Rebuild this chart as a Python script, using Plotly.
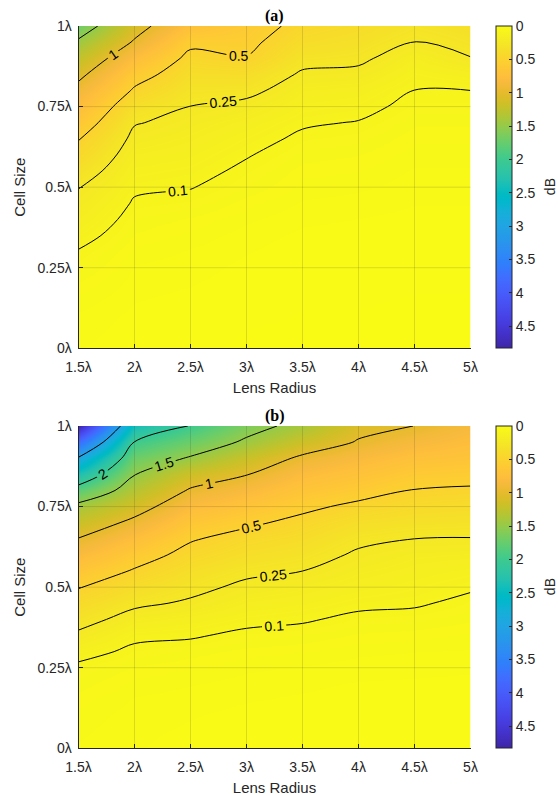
import plotly.graph_objects as go

# ---------------- data ----------------
lens_radius = [1.5, 2.0, 2.5, 3.0, 3.5, 4.0, 4.5, 5.0]
cell_size = [0.0, 0.05, 0.1, 0.15, 0.2, 0.25, 0.3, 0.35, 0.4, 0.45, 0.5,
             0.55, 0.6, 0.65, 0.7, 0.75, 0.8, 0.85, 0.9, 0.95, 1.0]

x_tick_vals = [1.5, 2.0, 2.5, 3.0, 3.5, 4.0, 4.5, 5.0]
x_tick_text = ["1.5λ", "2λ", "2.5λ", "3λ", "3.5λ", "4λ", "4.5λ", "5λ"]
y_tick_vals = [0.0, 0.25, 0.5, 0.75, 1.0]
y_tick_text = ["0λ", "0.25λ", "0.5λ", "0.75λ", "1λ"]
cbar_tick_vals = [0, 0.5, 1, 1.5, 2, 2.5, 3, 3.5, 4, 4.5]
cbar_max = 4.83

# panel (a): loss (dB) along cell size, one list per lens radius
a_r15 = [0.02, 0.025, 0.03, 0.04, 0.055, 0.075, 0.095, 0.13, 0.17, 0.21, 0.255,
         0.33, 0.42, 0.51, 0.63, 0.76, 0.91, 1.07, 1.25, 1.45, 1.7]
a_r20 = [0.01, 0.012, 0.015, 0.02, 0.025, 0.03, 0.04, 0.055, 0.07, 0.09, 0.115,
         0.14, 0.17, 0.21, 0.26, 0.34, 0.47, 0.6, 0.77, 0.97, 1.12]
a_r25 = [0.008, 0.01, 0.012, 0.015, 0.02, 0.025, 0.03, 0.04, 0.055, 0.08, 0.103,
         0.125, 0.15, 0.175, 0.205, 0.248, 0.3, 0.36, 0.44, 0.55, 0.72]
a_r30 = [0.005, 0.006, 0.008, 0.01, 0.012, 0.015, 0.02, 0.025, 0.035, 0.05, 0.07,
         0.085, 0.105, 0.13, 0.16, 0.21, 0.29, 0.37, 0.49, 0.55, 0.6]
a_r35 = [0.004, 0.005, 0.006, 0.007, 0.008, 0.01, 0.012, 0.016, 0.022, 0.03, 0.04,
         0.05, 0.065, 0.085, 0.11, 0.14, 0.175, 0.23, 0.3, 0.37, 0.44]
a_r40 = [0.004, 0.005, 0.006, 0.007, 0.008, 0.009, 0.011, 0.014, 0.019, 0.026, 0.035,
         0.045, 0.058, 0.075, 0.096, 0.125, 0.16, 0.215, 0.28, 0.33, 0.38]
a_r45 = [0.003, 0.004, 0.005, 0.006, 0.007, 0.008, 0.01, 0.012, 0.015, 0.02, 0.025,
         0.03, 0.038, 0.047, 0.06, 0.077, 0.099, 0.13, 0.17, 0.245, 0.3]
a_r50 = [0.003, 0.004, 0.005, 0.006, 0.007, 0.008, 0.01, 0.012, 0.015, 0.02, 0.025,
         0.03, 0.038, 0.047, 0.06, 0.077, 0.1, 0.16, 0.245, 0.3, 0.34]

# panel (b)
b_r15 = [0.03, 0.035, 0.04, 0.05, 0.065, 0.08, 0.135, 0.22, 0.31, 0.4, 0.51,
         0.65, 0.81, 0.99, 1.2, 1.4, 1.82, 2.35, 2.95, 3.8, 4.8]
b_r20 = [0.02, 0.022, 0.025, 0.03, 0.04, 0.055, 0.08, 0.12, 0.19, 0.28, 0.37,
         0.48, 0.6, 0.75, 0.93, 1.13, 1.33, 1.51, 1.72, 1.99, 2.4]
b_r25 = [0.015, 0.017, 0.02, 0.025, 0.033, 0.045, 0.065, 0.11, 0.16, 0.23, 0.29,
         0.35, 0.43, 0.52, 0.64, 0.79, 0.97, 1.17, 1.47, 1.72, 1.98]
b_r30 = [0.012, 0.013, 0.015, 0.02, 0.026, 0.035, 0.05, 0.08, 0.125, 0.17, 0.22,
         0.28, 0.35, 0.42, 0.54, 0.67, 0.83, 1.01, 1.2, 1.45, 1.62]
b_r35 = [0.01, 0.011, 0.013, 0.017, 0.022, 0.03, 0.045, 0.07, 0.11, 0.15, 0.19,
         0.25, 0.31, 0.37, 0.44, 0.55, 0.67, 0.79, 0.95, 1.18, 1.4]
b_r40 = [0.008, 0.009, 0.011, 0.014, 0.018, 0.025, 0.035, 0.055, 0.08, 0.12, 0.155,
         0.19, 0.23, 0.28, 0.35, 0.45, 0.59, 0.7, 0.82, 0.98, 1.08]
b_r45 = [0.007, 0.008, 0.01, 0.013, 0.017, 0.023, 0.032, 0.05, 0.075, 0.11, 0.135,
         0.16, 0.19, 0.25, 0.32, 0.4, 0.49, 0.6, 0.72, 0.85, 0.998]
b_r50 = [0.006, 0.007, 0.009, 0.012, 0.016, 0.021, 0.03, 0.043, 0.06, 0.08, 0.11,
         0.14, 0.18, 0.245, 0.31, 0.38, 0.47, 0.58, 0.68, 0.77, 0.85]

levels_a = [0.1, 0.25, 0.5, 1, 1.5]
levels_b = [0.1, 0.25, 0.5, 1, 1.5, 2, 3]

# ---------------- styling ----------------
parula = [
    (0.2422, 0.1504, 0.6603), (0.2504, 0.1650, 0.7076), (0.2578, 0.1818, 0.7511),
    (0.2647, 0.1978, 0.7952), (0.2706, 0.2147, 0.8364), (0.2751, 0.2342, 0.8710),
    (0.2783, 0.2559, 0.8991), (0.2803, 0.2782, 0.9221), (0.2813, 0.3006, 0.9414),
    (0.2810, 0.3228, 0.9579), (0.2795, 0.3447, 0.9717), (0.2760, 0.3667, 0.9829),
    (0.2699, 0.3892, 0.9906), (0.2602, 0.4123, 0.9952), (0.2440, 0.4358, 0.9988),
    (0.2206, 0.4603, 0.9973), (0.1963, 0.4847, 0.9892), (0.1834, 0.5074, 0.9798),
    (0.1786, 0.5289, 0.9682), (0.1764, 0.5499, 0.9520), (0.1687, 0.5703, 0.9359),
    (0.1540, 0.5902, 0.9218), (0.1460, 0.6091, 0.9079), (0.1380, 0.6276, 0.8973),
    (0.1248, 0.6459, 0.8883), (0.1113, 0.6635, 0.8763), (0.0952, 0.6798, 0.8598),
    (0.0689, 0.6948, 0.8394), (0.0297, 0.7082, 0.8163), (0.0036, 0.7203, 0.7917),
    (0.0067, 0.7312, 0.7660), (0.0433, 0.7411, 0.7394), (0.0964, 0.7500, 0.7120),
    (0.1408, 0.7584, 0.6842), (0.1717, 0.7670, 0.6554), (0.1938, 0.7758, 0.6251),
    (0.2161, 0.7843, 0.5923), (0.2470, 0.7918, 0.5567), (0.2906, 0.7973, 0.5188),
    (0.3406, 0.8008, 0.4789), (0.3909, 0.8029, 0.4354), (0.4456, 0.8024, 0.3909),
    (0.5044, 0.7993, 0.3480), (0.5616, 0.7942, 0.3045), (0.6174, 0.7876, 0.2612),
    (0.6720, 0.7793, 0.2227), (0.7242, 0.7698, 0.1910), (0.7738, 0.7598, 0.1646),
    (0.8203, 0.7498, 0.1535), (0.8634, 0.7406, 0.1596), (0.9035, 0.7330, 0.1774),
    (0.9393, 0.7288, 0.2100), (0.9728, 0.7298, 0.2394), (0.9956, 0.7434, 0.2371),
    (0.9970, 0.7659, 0.2199), (0.9952, 0.7893, 0.2028), (0.9892, 0.8136, 0.1885),
    (0.9786, 0.8386, 0.1766), (0.9676, 0.8639, 0.1643), (0.9610, 0.8890, 0.1537),
    (0.9597, 0.9135, 0.1423), (0.9628, 0.9373, 0.1265), (0.9691, 0.9606, 0.1064),
    (0.9769, 0.9839, 0.0805),
]
n = len(parula)
colorscale = [[i / (n - 1), "rgb(%d,%d,%d)" % tuple(round(c * 255) for c in rgb)]
              for i, rgb in enumerate(parula)]

W, H = 558, 796
AX = "#262626"
FONT = "Liberation Sans, Arial, Helvetica, sans-serif"
plot_left, plot_right = 78.5, 470.5
panels = [
    dict(cols=[a_r15, a_r20, a_r25, a_r30, a_r35, a_r40, a_r45, a_r50],
         levels=levels_a, top=26.0, bottom=348.3, title="(a)", xa="x", ya="y"),
    dict(cols=[b_r15, b_r20, b_r25, b_r30, b_r35, b_r40, b_r45, b_r50],
         levels=levels_b, top=426.0, bottom=748.3, title="(b)", xa="x2", ya="y2"),
]

fig = go.Figure()
layout = dict(width=W, height=H, margin=dict(l=0, r=0, t=0, b=0),
              paper_bgcolor="white", plot_bgcolor="white", showlegend=False,
              font=dict(family=FONT, size=14, color=AX), template="none")
annotations = []
shapes = []

for k, p in enumerate(panels):
    z = [list(row) for row in zip(*p["cols"])]  # rows = cell size, cols = lens radius
    zneg = [[-v for v in row] for row in z]
    sfx = "" if k == 0 else "2"
    cb_top = 1 - p["top"] / H
    cb_len = (p["bottom"] - p["top"]) / H
    fig.add_trace(go.Heatmap(
        x=lens_radius, y=cell_size, z=zneg, zsmooth="best",
        colorscale=colorscale, zmin=-cbar_max, zmax=0,
        xaxis=p["xa"], yaxis=p["ya"], hoverinfo="skip",
        colorbar=dict(
            x=496 / W, xanchor="left", xpad=0, y=cb_top, yanchor="top", ypad=0,
            len=cb_len, lenmode="fraction", thickness=16, thicknessmode="pixels",
            tickvals=[-v for v in cbar_tick_vals],
            ticktext=[("%g" % v) for v in cbar_tick_vals],
            ticks="inside", ticklen=3, tickcolor=AX, tickwidth=1,
            outlinewidth=1, outlinecolor=AX,
            tickfont=dict(family=FONT, size=14, color=AX),
        ),
    ))
    for lv in p["levels"]:
        fig.add_trace(go.Contour(
            x=lens_radius, y=cell_size, z=z, xaxis=p["xa"], yaxis=p["ya"],
            autocontour=False,
            contours=dict(start=lv, end=lv, size=1, coloring="none",
                          showlabels=True,
                          labelfont=dict(family=FONT, size=14, color="black")),
            line=dict(color="black", width=1, smoothing=1.0),
            showscale=False, hoverinfo="skip",
        ))
    ydom = [1 - p["bottom"] / H, 1 - p["top"] / H]
    xdom = [plot_left / W, plot_right / W]
    layout["xaxis" + sfx] = dict(
        domain=xdom, range=[1.5, 5], anchor=p["ya"], tickvals=x_tick_vals,
        ticktext=x_tick_text, ticks="inside", ticklen=4, tickcolor=AX,
        showline=True, linecolor=AX, linewidth=1, showgrid=False, zeroline=False,
        tickfont=dict(family=FONT, size=14, color=AX), ticklabelstandoff=6,
        title=dict(text="Lens Radius", font=dict(family=FONT, size=15, color=AX),
                   standoff=8),
    )
    layout["yaxis" + sfx] = dict(
        domain=ydom, range=[0, 1], anchor=p["xa"], tickvals=y_tick_vals,
        ticktext=y_tick_text, ticks="inside", ticklen=4, tickcolor=AX,
        showline=True, linecolor=AX, linewidth=1, showgrid=False, zeroline=False,
        tickfont=dict(family=FONT, size=14, color=AX), ticklabelstandoff=3,
        title=dict(text="Cell Size", font=dict(family=FONT, size=15, color=AX),
                   standoff=8),
    )
    # grid lines above the image (like MATLAB 'Layer top')
    for t in x_tick_vals[1:-1]:
        shapes.append(dict(type="line", xref=p["xa"], yref=p["ya"] + " domain",
                           x0=t, x1=t, y0=0, y1=1, layer="above",
                           line=dict(color="rgba(38,38,38,0.15)", width=1)))
    for t in y_tick_vals[1:-1]:
        shapes.append(dict(type="line", xref=p["xa"] + " domain", yref=p["ya"],
                           x0=0, x1=1, y0=t, y1=t, layer="above",
                           line=dict(color="rgba(38,38,38,0.15)", width=1)))
    annotations.append(dict(
        text="<b>" + p["title"] + "</b>", xref="paper", yref="paper",
        x=(plot_left + plot_right) / 2 / W, y=1 - (p["top"] - 10) / H,
        xanchor="center", yanchor="middle", showarrow=False,
        font=dict(family="Liberation Serif, Times New Roman, serif", size=16,
                  color="black")))
    annotations.append(dict(
        text="dB", xref="paper", yref="paper", x=550 / W,
        y=1 - ((p["top"] + p["bottom"]) / 2) / H, textangle=-90,
        xanchor="center", yanchor="middle", showarrow=False,
        font=dict(family=FONT, size=14, color=AX)))

layout["annotations"] = annotations
layout["shapes"] = shapes
fig.update_layout(**layout)
fig.write_html("out.html")
